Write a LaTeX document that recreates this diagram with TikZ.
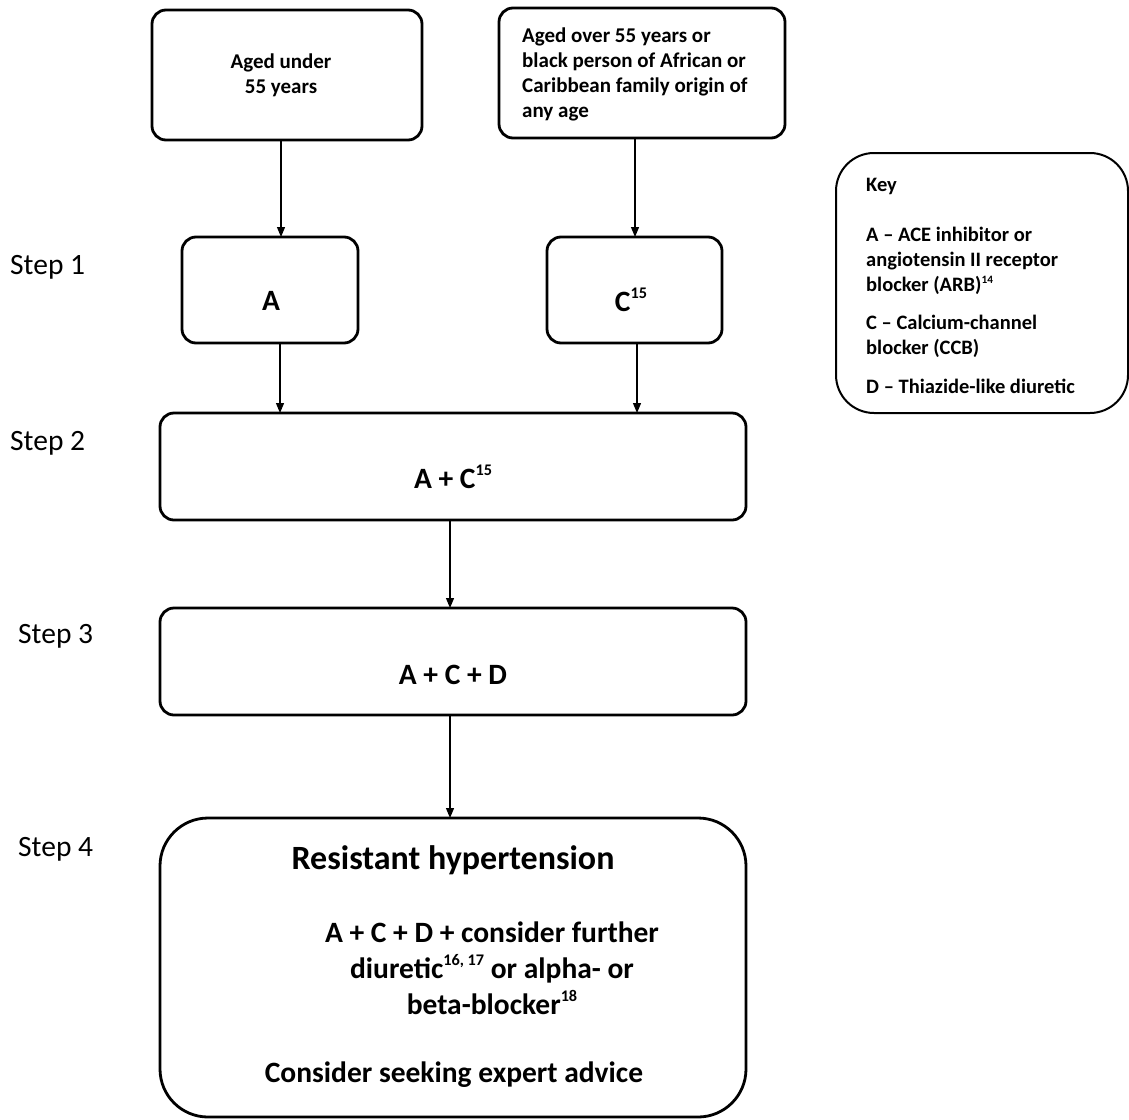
\documentclass[tikz,border=0pt]{standalone}
\usepackage{fontspec}
\setmainfont{Carlito}
\usetikzlibrary{arrows.meta}
\newcommand{\supr}[1]{\raisebox{0.42em}{\scalebox{0.55}{#1}}}
\tikzset{
  box/.style={draw, line width=2.8pt, rounded corners=14pt},
  bigbox/.style={draw, line width=2.8pt, rounded corners=48pt},
  keybox/.style={draw, line width=2pt, rounded corners=38pt},
  arr/.style={line width=1.2pt, -{Triangle[length=10pt,width=8pt]}},
  txt/.style={inner sep=0pt, font=\bfseries\fontsize{21}{25}\selectfont, align=center},
  keytxt/.style={inner sep=0pt, anchor=west, align=left, font=\bfseries\fontsize{20.5}{25}\selectfont},
  big/.style={inner sep=0pt, font=\bfseries\fontsize{29.5}{36}\selectfont, align=center},
  steplab/.style={inner sep=0pt, anchor=west, font=\fontsize{29.5}{34}\selectfont},
}
\begin{document}
\begin{tikzpicture}[x=1pt,y=-1pt]
\useasboundingbox (0,0) rectangle (1129,1119);
% boxes
\draw[box] (152,10) rectangle (422,140);
\draw[box] (499,8) rectangle (785,138);
\draw[box] (182,237) rectangle (358,343);
\draw[box] (547,237) rectangle (722,343);
\draw[box] (160,413) rectangle (746,520);
\draw[box] (160,608) rectangle (746,715);
\draw[bigbox] (160,818) rectangle (746,1117);
\draw[keybox] (836,153) rectangle (1128,413);
% named anchor coordinates
\coordinate (u1) at (281,140); \coordinate (a1) at (281,237);
\coordinate (u2) at (635,138); \coordinate (c1) at (635,237);
\coordinate (a2) at (280,343); \coordinate (s2a) at (280,413);
\coordinate (c2) at (637,343); \coordinate (s2c) at (637,413);
\coordinate (s2b) at (450,520); \coordinate (s3t) at (450,608);
\coordinate (s3b) at (450,715); \coordinate (s4t) at (450,818);
\draw[arr] (u1) -- (a1);
\draw[arr] (u2) -- (c1);
\draw[arr] (a2) -- (s2a);
\draw[arr] (c2) -- (s2c);
\draw[arr] (s2b) -- (s3t);
\draw[arr] (s3b) -- (s4t);
% texts
\node[txt] (t1) at (281,75) {Aged under\\55 years};
\node[txt, align=left, anchor=west] (t2) at (522,74) {Aged over 55 years or\\black person of African or\\Caribbean family origin of\\any age};
\node[big] (ta) at (271,301) {A};
\node[big] (tc) at (631,300) {C\supr{15}};
\node[big] (ts2) at (453,477) {A + C\supr{15}};
\node[big] (ts3) at (453,675) {A + C + D};
\node[inner sep=0pt, font=\bfseries\fontsize{34}{40}\selectfont] (rh) at (453,860) {Resistant hypertension};
\node[big] (mid) at (492,968) {A + C + D + consider further\\diuretic\supr{16, 17} or alpha- or\\beta-blocker\supr{18}};
\node[big] (adv) at (454,1075) {Consider seeking expert advice};
% key
\node[keytxt] (key) at (866,186) {Key};
\node[keytxt] (kA) at (866,261) {A -- ACE inhibitor or\\angiotensin II receptor\\blocker (ARB)\supr{14}};
\node[keytxt] (kC) at (866,336.5) {C -- Calcium-channel\\blocker (CCB)};
\node[keytxt] (kD) at (866,386) {D -- Thiazide-like diuretic};
% step labels
\node[steplab] (st1) at (10,267) {Step 1};
\node[steplab] (st2) at (10,443) {Step 2};
\node[steplab] (st3) at (18,636) {Step 3};
\node[steplab] (st4) at (18,849) {Step 4};
\end{tikzpicture}
\end{document}
